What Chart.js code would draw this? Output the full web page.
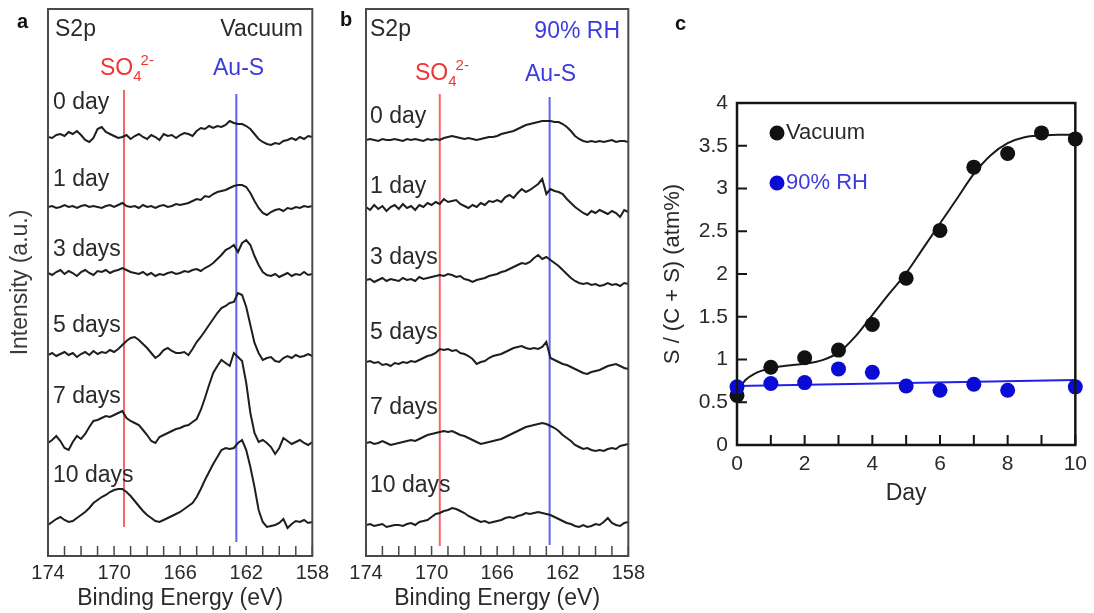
<!DOCTYPE html>
<html>
<head>
<meta charset="utf-8">
<script src="https://cdn.jsdelivr.net/npm/chart.js@4.4.1/dist/chart.umd.min.js"></script>
<style>
  html, body { margin: 0; padding: 0; background: #fff; }
  body { width: 1094px; height: 613px; position: relative; overflow: hidden; }
  canvas { position: absolute; top: 0; }
</style>
</head>
<body>
<canvas id="chartA" width="334" height="613" style="left:0px"></canvas>
<canvas id="chartB" width="316" height="613" style="left:334px"></canvas>
<canvas id="chartC" width="444" height="613" style="left:650px"></canvas>
<script>
// Binding energy grid (eV)
const energies = [
  174, 173.75, 173.5, 173.25, 173, 172.75, 172.5, 172.25,
  172, 171.75, 171.5, 171.25, 171, 170.75, 170.5, 170.25,
  170, 169.75, 169.5, 169.25, 169, 168.75, 168.5, 168.25,
  168, 167.75, 167.5, 167.25, 167, 166.75, 166.5, 166.25,
  166, 165.75, 165.5, 165.25, 165, 164.75, 164.5, 164.25,
  164, 163.75, 163.5, 163.25, 163, 162.75, 162.5, 162.25,
  162, 161.75, 161.5, 161.25, 161, 160.75, 160.5, 160.25,
  160, 159.75, 159.5, 159.25, 159, 158.75, 158.5, 158.25, 158
];

const dayLabels = ['0 day', '1 day', '3 days', '5 days', '7 days', '10 days'];

// stacking offsets (a.u.)
const vacOffsets = [419, 349, 283, 201, 113, 34];
const rhOffsets = [416, 349, 276, 194, 113, 31];

// S2p spectra, vacuum (a.u., relative to baseline)
const vac0 = [
  0, -1, 2, 3, 1, 5, 3, 6,
  2, -3, -5, -1, 8, 10, 5, 3,
  1, -1, 0, 2, -2, 1, 3, 0,
  -2, 2, 0, -3, 3, 1, 2, -1,
  2, 4, 3, 1, 6, 9, 8, 11,
  9, 11, 10, 12, 16, 14, 13, 13,
  11, 8, 3, -2, -5, -7, -8, -6,
  -7, -4, -3, -1, -3, 0, -2, 1, 0
];
const vac1 = [
  0, 1, -1, 0, 2, 0, 1, -1,
  1, 2, 0, 1, 0, -1, 1, 2,
  0, 2, 4, 1, 0, 1, -1, 2,
  0, 1, -1, 1, 2, 0, 1, 3,
  2, 3, 4, 6, 8, 7, 11, 10,
  13, 15, 16, 17, 19, 21, 22, 22,
  20, 14, 6, -1, -6, -8, -5, -3,
  -2, -4, -1, -2, 0, -1, 1, 0, 1
];
const vac3 = [
  0, -2, 1, 3, -1, 2, 0, -3,
  1, 3, 0, -2, 2, 1, 3, 0,
  2, 3, 5, 3, 1, 0, -1, 1,
  -2, 0, -3, -1, -2, 0, 1, -1,
  0, 2, 1, 3, 4, 2, 5, 7,
  10, 14, 18, 23, 25, 28, 21, 30,
  33, 28, 17, 8, 1, -2, -3, -1,
  -4, -2, 0, -3, -1, -2, 1, -2, -1
];
const vac5 = [
  0, 2, -1, 1, 3, 0, 2, -2,
  1, 3, 0, 4, 1, 3, 2, 5,
  3, 6, 10, 14, 17, 18, 15, 11,
  7, 2, -3, 0, 5, 7, 4, 2,
  2, 3, 0, 6, 13, 18, 24, 30,
  36, 42, 47, 49, 52, 53, 62, 60,
  48, 30, 12, 2, -5, -3, -2, -6,
  -7, -3, -1, -3, 0, -2, -1, 1, -1
];
const vac7 = [
  0, 3, 7, 2, -5, -7, 1, 7,
  4, 9, 16, 22, 23, 25, 27, 26,
  28, 30, 32, 25, 22, 20, 18, 13,
  8, 2, 0, 6, 8, 10, 12, 14,
  15, 17, 18, 21, 24, 33, 45, 58,
  70, 77, 83, 80, 77, 90, 86, 82,
  60, 30, 10, 1, 3, 0, -4, -11,
  -5, 5, 2, -1, 1, 3, 0, -2, 1
];
const vac10 = [
  -3, 0, 3, 5, 2, 0, 1, 4,
  7, 10, 14, 19, 22, 25, 27, 30,
  32, 33, 33, 30, 26, 21, 16, 11,
  7, 4, 1, 0, 2, 4, 6, 8,
  10, 13, 16, 19, 25, 33, 42, 50,
  58, 65, 72, 74, 73, 74, 79, 82,
  72, 55, 35, 12, 0, -5, -4, -3,
  -1, 3, -6, -2, 1, 0, 2, -1, 0
];

// S2p spectra, 90% RH
const rh0 = [
  0, 1, 0, -1, 1, 0, 0, 1,
  0, -1, 1, 0, 1, 0, -1, 1,
  0, 1, 0, 2, 3, 4, 3, 2,
  1, 2, 1, 0, 1, 2, 3, 3,
  4, 6, 7, 8, 9, 11, 13, 15,
  16, 17, 18, 19, 19, 19, 18, 18,
  16, 13, 9, 4, 1, -1, -2, -1,
  -2, -1, -2, -1, 0, -2, -1, -1, -2
];
const rh1 = [
  0, -3, 2, -2, 1, -4, 0, 2,
  -2, 3, -1, 1, -3, 2, 0, 4,
  2, 5, 3, 8, 5, 6, 7, 3,
  1, -1, 2, 0, 4, 2, 6, 5,
  7, 5, 10, 12, 9, 14, 18, 15,
  17, 20, 23, 28, 13, 18, 16, 15,
  13, 8, 4, 0, -3, -6, -8, -4,
  -6, -3, -5, -7, -4, -6, -10, -3, -5
];
const rh3 = [
  0, 1, -2, 0, 2, -1, 1, 0,
  -1, 2, 0, 1, -1, 3, 1, 2,
  3, 4, 5, 4, 6, 5, 3, 4,
  1, 0, -2, 0, 1, 2, 4, 5,
  6, 8, 9, 11, 13, 15, 17, 16,
  18, 22, 25, 21, 23, 20, 17, 14,
  10, 6, 2, -1, -3, -4, -3, -5,
  -4, -6, -5, -3, -5, -4, -6, -3, -4
];
const rh5 = [
  0, 1, -1, 0, -3, -2, -4, -1,
  -2, 0, -1, 1, 0, 2, 4, 6,
  7, 9, 13, 12, 13, 11, 12, 9,
  8, 6, 3, -2, 0, 1, 4, 6,
  7, 8, 10, 12, 14, 15, 16, 14,
  13, 14, 13, 15, 20, 4, 2, 0,
  -2, -3, -5, -7, -9, -11, -12, -10,
  -9, -8, -6, -4, -3, -2, -4, -6, -7
];
const rh7 = [
  0, 1, -1, 0, 2, 0, -2, -1,
  0, 1, 2, 3, 2, 4, 6, 8,
  9, 10, 11, 12, 11, 12, 10, 8,
  7, 5, 3, 1, -1, 0, 1, 2,
  3, 4, 6, 8, 10, 12, 14, 16,
  17, 18, 19, 20, 19, 17, 15, 12,
  8, 5, 2, -2, -4, -6, -5, -7,
  -8, -7, -8, -6, -5, -6, -3, -2, -1
];
const rh10 = [
  0, 1, -1, 0, 1, -2, -1, 0,
  0, -1, 1, 2, 0, 3, 4, 5,
  8, 11, 12, 14, 15, 17, 16, 14,
  12, 9, 7, 5, 3, 4, 2, 3,
  4, 5, 7, 8, 7, 9, 10, 12,
  11, 12, 13, 12, 11, 10, 8, 6,
  4, 2, 1, -1, -2, 0, -2, -1,
  1, 0, 3, 7, 2, 0, -1, 2, 3
];

// peak positions (eV)
const so4Vac = 169.4, ausVac = 162.6;
const so4Rh = 169.5, ausRh = 162.8;

// panel c: S / (C + S) (atm%)
const days = [0, 1, 2, 3, 4, 5, 6, 7, 8, 9, 10];
const vacuumS = [0.58, 0.91, 1.02, 1.11, 1.41, 1.95, 2.51, 3.25, 3.41, 3.65, 3.58];
const rhDays = [0, 1, 2, 3, 4, 5, 6, 7, 8, 10];
const rhS = [0.68, 0.72, 0.73, 0.89, 0.85, 0.69, 0.64, 0.71, 0.64, 0.68];
const fitDays = [0, 0.25, 0.5, 1, 1.5, 2, 2.5, 3, 3.5, 4, 4.5, 5, 5.5, 6, 6.5, 7, 7.5, 8, 8.5, 9, 9.5, 10];
const fitVac = [0.62, 0.76, 0.83, 0.90, 0.93, 0.95, 0.99, 1.08, 1.27, 1.52, 1.77, 2.01, 2.30, 2.59, 2.88, 3.17, 3.39, 3.53, 3.60, 3.62, 3.63, 3.63];
const fitRhDays = [0, 10];
const fitRh = [0.69, 0.76];

const FONT = "'Liberation Sans', Arial, sans-serif";
const TEXT = '#2a2a2a';
const RED = '#f03434';
const BLUE = '#3b3be0';
Chart.defaults.font.family = FONT;
Chart.defaults.color = TEXT;
Chart.defaults.animation = false;

function txt(ctx, s, x, y, opt) {
    opt = opt || {};
    ctx.save();
    ctx.font = (opt.bold ? 'bold ' : '') + (opt.size || 23) + 'px ' + FONT;
    ctx.fillStyle = opt.color || TEXT;
    ctx.textAlign = opt.align || 'left';
    ctx.textBaseline = 'middle';
    ctx.fillText(s, x, y);
    const w = ctx.measureText(s).width;
    ctx.restore();
    return w;
}

function drawSO4(ctx, x, y) {
    const w = txt(ctx, 'SO', x, y, { color: RED });
    const w4 = txt(ctx, '4', x + w, y + 8, { color: RED, size: 15 });
    txt(ctx, '2-', x + w + w4 - 1, y - 8, { color: RED, size: 15 });
}

function framePlugin(cfg) {
    return {
        id: 'frame',
        beforeDatasetsDraw(chart) {
            const ctx = chart.ctx;
            const xs = chart.scales.x;
            (cfg.markers || []).forEach(m => {
                const px = xs.getPixelForValue(m.value);
                ctx.save();
                ctx.strokeStyle = m.color;
                ctx.lineWidth = 2;
                ctx.beginPath();
                ctx.moveTo(px, m.y0);
                ctx.lineTo(px, m.y1);
                ctx.stroke();
                ctx.restore();
            });
        },
        afterDraw(chart) {
            const ctx = chart.ctx;
            const a = chart.chartArea;
            ctx.save();
            ctx.strokeStyle = cfg.frameColor;
            ctx.lineWidth = cfg.frameWidth;
            ctx.strokeRect(a.left, a.top, a.right - a.left, a.bottom - a.top);
            ctx.lineWidth = cfg.tickWidth;
            ctx.beginPath();
            const xs = chart.scales.x;
            xs.ticks.forEach(t => {
                const px = xs.getPixelForValue(t.value);
                ctx.moveTo(px, a.bottom);
                ctx.lineTo(px, a.bottom - cfg.tickLen);
            });
            if (cfg.yTicks) {
                const ys = chart.scales.y;
                ys.ticks.forEach(t => {
                    const py = ys.getPixelForValue(t.value);
                    ctx.moveTo(a.left, py);
                    ctx.lineTo(a.left + cfg.tickLen, py);
                });
            }
            ctx.stroke();
            ctx.restore();
            cfg.texts(ctx, chart);
        }
    };
}

function spectrumDatasets(traces, offsets) {
    return traces.map((tr, k) => ({
        label: dayLabels[k],
        data: energies.map((e, i) => ({ x: e, y: offsets[k] + tr[i] })),
        showLine: true,
        borderColor: '#1e1e1e',
        borderWidth: 2,
        pointRadius: 0,
        tension: 0
    }));
}

function spectrumChart(id, traces, offsets, opts) {
    const hasY = !!opts.yTitle;
    return new Chart(document.getElementById(id), {
        type: 'scatter',
        data: { datasets: spectrumDatasets(traces, offsets) },
        options: {
            responsive: false,
            events: [],
            layout: { padding: opts.padding },
            plugins: { legend: { display: false }, tooltip: { enabled: false } },
            scales: {
                x: {
                    type: 'linear',
                    reverse: true,
                    min: 158,
                    max: 174,
                    grid: { display: false, drawTicks: false },
                    border: { display: false },
                    ticks: {
                        stepSize: 1,
                        autoSkip: false,
                        maxRotation: 0,
                        padding: 5,
                        font: { size: 20 },
                        color: TEXT,
                        callback: v => ((174 - v) % 4 === 0 ? String(v) : '')
                    },
                    title: {
                        display: true,
                        text: 'Binding Energy (eV)',
                        font: { size: 23 },
                        color: TEXT,
                        padding: { top: 0, bottom: 1 }
                    },
                    afterFit: s => { s.height = 57; }
                },
                y: {
                    display: hasY,
                    min: 0,
                    max: 547,
                    grid: { display: false, drawTicks: false },
                    border: { display: false },
                    ticks: { display: false },
                    title: {
                        display: hasY,
                        text: opts.yTitle || '',
                        font: { size: 23 },
                        color: '#3a3a3a',
                        padding: { top: 7, bottom: 0 }
                    },
                    afterFit: s => { s.width = hasY ? 48 : 0; }
                }
            }
        },
        plugins: [framePlugin({
            frameColor: '#4a4a4a',
            frameWidth: 2,
            tickWidth: 1.5,
            tickLen: 10,
            markers: opts.markers,
            texts: opts.texts
        })]
    });
}

// panel a: vacuum
spectrumChart('chartA', [vac0, vac1, vac3, vac5, vac7, vac10], vacOffsets, {
    padding: { top: 9, right: 21, left: 0, bottom: 0 },
    yTitle: 'Intensity (a.u.)',
    markers: [
        { value: so4Vac, color: 'rgba(240,96,96,0.95)', y0: 90, y1: 527 },
        { value: ausVac, color: 'rgba(90,90,235,0.95)', y0: 94, y1: 542 }
    ],
    texts: ctx => {
        txt(ctx, 'a', 17, 22, { bold: true, size: 20, color: '#111' });
        txt(ctx, 'S2p', 55, 30);
        txt(ctx, 'Vacuum', 303, 30, { align: 'right' });
        drawSO4(ctx, 100, 69);
        txt(ctx, 'Au-S', 213, 69, { color: BLUE });
        [103, 180, 250, 326, 397, 476].forEach((y, k) => txt(ctx, dayLabels[k], 53, y));
    }
});

// panel b: 90% RH
spectrumChart('chartB', [rh0, rh1, rh3, rh5, rh7, rh10], rhOffsets, {
    padding: { top: 9, right: 19, left: 32, bottom: 0 },
    markers: [
        { value: so4Rh, color: 'rgba(240,96,96,0.95)', y0: 94, y1: 546 },
        { value: ausRh, color: 'rgba(90,90,235,0.95)', y0: 97, y1: 545 }
    ],
    texts: ctx => {
        txt(ctx, 'b', 6, 20, { bold: true, size: 20, color: '#111' });
        txt(ctx, 'S2p', 36, 30);
        txt(ctx, '90% RH', 286, 32, { align: 'right', color: BLUE });
        drawSO4(ctx, 81, 74);
        txt(ctx, 'Au-S', 191, 75, { color: BLUE });
        [117, 187, 258, 333, 408, 486].forEach((y, k) => txt(ctx, dayLabels[k], 36, y));
    }
});

// panel c: S content vs day
new Chart(document.getElementById('chartC'), {
    type: 'scatter',
    data: {
        datasets: [
            {
                label: '90% RH',
                data: rhDays.map((d, i) => ({ x: d, y: rhS[i] })),
                backgroundColor: '#0b0bd6',
                borderWidth: 0,
                pointRadius: 7.5,
                clip: false,
                order: 0
            },
            {
                label: 'Vacuum',
                data: days.map((d, i) => ({ x: d, y: vacuumS[i] })),
                backgroundColor: '#111',
                borderWidth: 0,
                pointRadius: 7.5,
                clip: false,
                order: 1
            },
            {
                label: 'Vacuum fit',
                data: fitDays.map((d, i) => ({ x: d, y: fitVac[i] })),
                showLine: true,
                borderColor: '#1a1a1a',
                borderWidth: 2,
                pointRadius: 0,
                cubicInterpolationMode: 'monotone',
                order: 2
            },
            {
                label: '90% RH fit',
                data: fitRhDays.map((d, i) => ({ x: d, y: fitRh[i] })),
                showLine: true,
                borderColor: '#2222e6',
                borderWidth: 2.2,
                pointRadius: 0,
                order: 3
            }
        ]
    },
    options: {
        responsive: false,
        events: [],
        layout: { padding: { top: 103, right: 13, left: 0, bottom: 93 } },
        plugins: { legend: { display: false }, tooltip: { enabled: false } },
        scales: {
            x: {
                type: 'linear',
                min: 0,
                max: 10,
                grid: { display: false, drawTicks: false },
                border: { display: false },
                ticks: {
                    stepSize: 1,
                    autoSkip: false,
                    maxRotation: 0,
                    padding: 7,
                    font: { size: 21 },
                    color: TEXT,
                    callback: v => (v % 2 === 0 ? String(v) : '')
                },
                title: {
                    display: true,
                    text: 'Day',
                    font: { size: 23 },
                    color: TEXT,
                    padding: { top: 0, bottom: 13 }
                },
                afterFit: s => { s.height = 75; }
            },
            y: {
                min: 0,
                max: 4,
                grid: { display: false, drawTicks: false },
                border: { display: false },
                ticks: {
                    stepSize: 0.5,
                    padding: 9,
                    font: { size: 21 },
                    color: TEXT,
                    callback: v => String(v)
                },
                title: {
                    display: true,
                    text: 'S / (C + S) (atm%)',
                    font: { size: 22 },
                    color: TEXT,
                    padding: { top: 10, bottom: 0 }
                },
                afterFit: s => { s.width = 87; }
            }
        }
    },
    plugins: [framePlugin({
        frameColor: '#151515',
        frameWidth: 2.5,
        tickWidth: 2,
        tickLen: 10,
        yTicks: true,
        texts: (ctx, chart) => {
            txt(ctx, 'c', 25, 24, { bold: true, size: 20, color: '#111' });
            const legend = [
                { ds: chart.data.datasets[1], y: 133, color: TEXT },
                { ds: chart.data.datasets[0], y: 183, color: BLUE }
            ];
            legend.forEach(l => {
                ctx.save();
                ctx.fillStyle = l.ds.backgroundColor;
                ctx.beginPath();
                ctx.arc(127, l.y, 7.5, 0, Math.PI * 2);
                ctx.fill();
                ctx.restore();
                txt(ctx, l.ds.label, 136, l.y, { color: l.color, size: 22 });
            });
        }
    })]
});
</script>
</body>
</html>
